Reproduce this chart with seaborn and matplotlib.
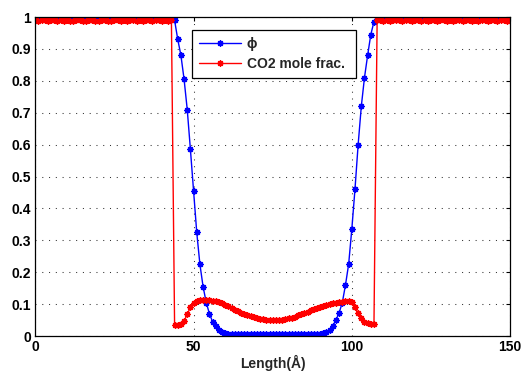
import numpy as np
import pandas as pd
import matplotlib
matplotlib.use("Agg")
import matplotlib.pyplot as plt
import seaborn as sns

# ---------------- data ----------------
length = list(range(0, 151))  # Angstrom

phi_left = [1.0] * 44  # x = 0..43
phi_mid = [0.99, 0.93, 0.88, 0.805, 0.71, 0.585, 0.455, 0.325, 0.225, 0.155,
           0.105, 0.07, 0.045, 0.03, 0.02, 0.013, 0.009, 0.007, 0.006,
           0.005, 0.005, 0.005, 0.005, 0.005, 0.005, 0.005, 0.005, 0.005,
           0.005, 0.005, 0.005, 0.005, 0.005, 0.005, 0.005, 0.005, 0.005,
           0.005, 0.005, 0.005, 0.005, 0.005, 0.005, 0.005, 0.005,
           0.006, 0.007, 0.009, 0.013, 0.02, 0.032, 0.05, 0.073, 0.105, 0.16,
           0.225, 0.335, 0.46, 0.6, 0.72, 0.81, 0.88, 0.945, 0.985]  # x = 44..107
phi_right = [1.0] * 43  # x = 108..150
phi = phi_left + phi_mid + phi_right

co2_left = [0.991, 0.989, 0.990, 0.992, 0.988, 0.990, 0.991, 0.989, 0.990, 0.988,
            0.991, 0.987, 0.989, 0.990, 0.992, 0.988, 0.989, 0.991, 0.990, 0.988,
            0.989, 0.990, 0.991, 0.989, 0.988, 0.990, 0.992, 0.989, 0.990, 0.988,
            0.991, 0.990, 0.989, 0.990, 0.988, 0.991, 0.990, 0.989, 0.990, 0.991,
            0.989, 0.990, 0.988, 0.990]  # x = 0..43
co2_mid = [0.036, 0.035, 0.037, 0.047, 0.068, 0.09, 0.105, 0.11, 0.112, 0.113,
           0.113, 0.112, 0.111, 0.109, 0.106, 0.102, 0.098, 0.093, 0.088,
           0.083, 0.078, 0.073, 0.069, 0.066, 0.062, 0.059, 0.056, 0.054, 0.052,
           0.051, 0.050, 0.050, 0.050, 0.050, 0.051, 0.053, 0.055, 0.058, 0.061,
           0.065, 0.068, 0.072, 0.076, 0.080, 0.084,
           0.088, 0.092, 0.095, 0.098, 0.101, 0.103, 0.105, 0.107, 0.108, 0.110,
           0.111, 0.106, 0.09, 0.072, 0.056, 0.045, 0.04, 0.038, 0.038]  # x = 44..107
co2_right = [0.990, 0.991, 0.989, 0.990, 0.988, 0.990, 0.991, 0.990, 0.989, 0.992,
             0.990, 0.988, 0.990, 0.991, 0.989, 0.990, 0.988, 0.991, 0.990, 0.989,
             0.990, 0.992, 0.989, 0.990, 0.988, 0.990, 0.991, 0.989, 0.990, 0.991,
             0.988, 0.990, 0.989, 0.991, 0.990, 0.988, 0.990, 0.991, 0.989, 0.990,
             0.992, 0.989, 0.990]  # x = 108..150
co2 = co2_left + co2_mid + co2_right

series_labels = ["\u03d5", "CO2 mole frac."]
series_colors = ["#0000FF", "#FF0000"]
x_ticks = [0, 50, 100, 150]
y_ticks = [0, 0.1, 0.2, 0.3, 0.4, 0.5, 0.6, 0.7, 0.8, 0.9, 1]
y_tick_labels = ["0", "0.1", "0.2", "0.3", "0.4", "0.5", "0.6", "0.7", "0.8", "0.9", "1"]
x_label = "Length(\u00c5)"

# ---------------- plot ----------------
sns.set_style("white")
plt.rcParams["font.family"] = ["Liberation Sans", "DejaVu Sans"]

fig = plt.figure(figsize=(5.21, 3.74), dpi=100)
ax = fig.add_axes([0.0678, 0.1016, 0.9112, 0.8529])

df = pd.DataFrame({"x": length, "phi": phi, "co2": co2})
for col, lab, colr in zip(["phi", "co2"], series_labels, series_colors):
    sns.lineplot(data=df, x="x", y=col, ax=ax, color=colr, label=lab,
                 linewidth=1.0, marker=(8, 2, 0), markersize=4.5,
                 markeredgewidth=1.0, markeredgecolor=colr, markerfacecolor=colr)

ax.set_xlim(0, 150)
ax.set_ylim(0, 1)
ax.set_xticks(x_ticks)
ax.set_xticklabels([str(t) for t in x_ticks], fontweight="bold", fontsize=10)
ax.set_yticks(y_ticks)
ax.set_yticklabels(y_tick_labels, fontweight="bold", fontsize=10)
ax.set_xlabel(x_label, fontweight="bold", fontsize=10, labelpad=0.5)
ax.set_ylabel("")

ax.grid(True, color="#333333", linestyle=(0, (1, 5.5)), linewidth=0.75)
ax.tick_params(direction="in", length=3, width=0.8, top=True, right=True,
               colors="black", pad=3)
for s in ax.spines.values():
    s.set_visible(True)
    s.set_color("black")
    s.set_linewidth(0.9)

leg = ax.legend(loc="upper left", bbox_to_anchor=(0.3295, 0.821, 0.3455, 0.138),
                mode="expand", borderaxespad=0.0, frameon=True, fancybox=False,
                shadow=False, handlelength=3.05, handletextpad=0.4,
                borderpad=0.5, labelspacing=0.45,
                prop={"weight": "bold", "size": 10})
leg.get_frame().set_edgecolor("black")
leg.get_frame().set_linewidth(0.9)
leg.get_frame().set_alpha(1)

fig.savefig("out.png", dpi=100)
